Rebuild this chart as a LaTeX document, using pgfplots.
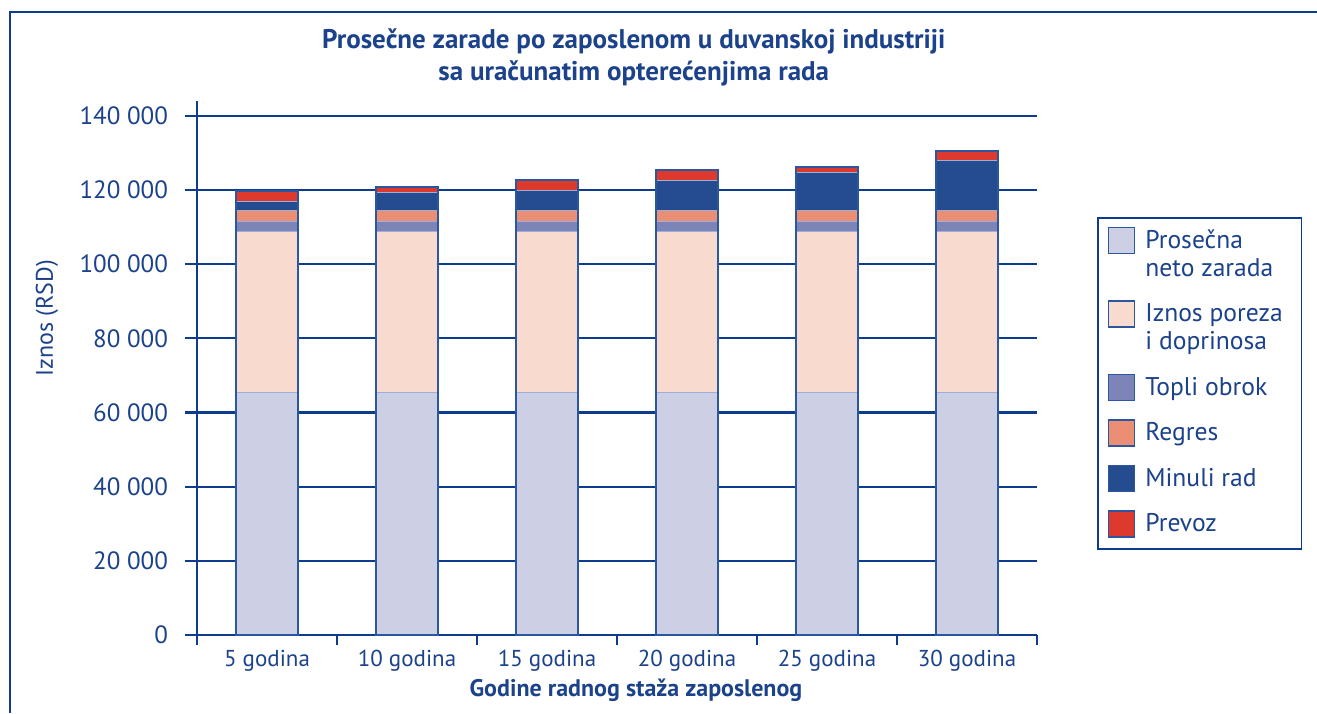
\documentclass[border=0pt]{standalone}
\usepackage{fontspec}
\setmainfont{PT Sans}
\usepackage{pgfplots}
\usepackage{pgfplotstable}
\pgfplotsset{compat=1.18}

\definecolor{txtblue}{HTML}{1B428A}
\definecolor{axblue}{HTML}{0D3C8C}
\definecolor{cneto}{HTML}{CDD0E5}
\definecolor{cporez}{HTML}{F8DACE}
\definecolor{ctopli}{HTML}{7C84B8}
\definecolor{cregres}{HTML}{EA8F74}
\definecolor{cminuli}{HTML}{254C8F}
\definecolor{cprevoz}{HTML}{DD3A2D}
\definecolor{csep}{HTML}{9DAFD8}
\definecolor{cedge}{HTML}{2B57A0}

% iznosi u RSD po godinama staza
\pgfplotstableread{
x neto porez topli regres minuli prevoz
0 65400 43400 2600 3000 2500 2700
1 65400 43400 2600 3000 4900 1500
2 65400 43400 2600 3000 5500 2700
3 65400 43400 2600 3000 8200 2700
4 65400 43400 2600 3000 10400 1500
5 65400 43400 2600 3000 13500 2500
}\zarade

\newcommand{\lone}[1]{\hbox to 73pt{\strut #1\hfil}}
\newcommand{\ltwo}[2]{\vtop{\hbox to 73pt{\strut #1\hfil}\hbox to 73pt{\strut #2\hfil}}}

\pgfplotsset{
  okvir/.style={
    at={(98.5pt,39pt)}, anchor=south west, scale only axis,
    width=420pt, height=267pt,
    xmin=-0.5, xmax=5.5, ymin=0, ymax=144000,
  },
  % kvadrat u legendi; nevidljiva tacka odredjuje dubinu reda
  kv1/.style={legend image code/.code={%
    \draw[##1, draw=cedge, line width=0.8pt] (0pt,-2.5pt) rectangle (13pt,10.5pt);
    \path (0pt,-4.2pt);}},
  kv2/.style={legend image code/.code={%
    \draw[##1, draw=cedge, line width=0.8pt] (0pt,-2.5pt) rectangle (13pt,10.5pt);
    \path (0pt,-18.2pt);}},
}

\begin{document}
\begin{tikzpicture}
\useasboundingbox (0,0) rectangle (658.5pt,356.5pt);
\draw[axblue, line width=1pt] (5pt,0) -- (5pt,350.5pt) -- (658.5pt,350.5pt);

\begin{axis}[okvir,
  ybar stacked, bar width=31pt,
  axis x line=bottom, axis y line=left,
  axis line style={axblue, line width=1.1pt, -},
  xtick={0,...,5},
  xticklabels={5 godina,10 godina,15 godina,20 godina,25 godina,30 godina},
  minor xtick={-0.5,0.5,...,5.5},
  ytick={0,20000,...,140000},
  yticklabels={0,20 000,40 000,60 000,80 000,100 000,120 000,140 000},
  scaled y ticks=false,
  tick align=outside, major tick length=6pt, minor tick length=5pt,
  major x tick style={draw=none},
  tick style={axblue, line width=1.1pt},
  minor tick style={axblue, line width=1.1pt},
  ymajorgrids, grid style={axblue, line width=1.1pt},
  x tick label style={font=\fontsize{11.5}{13}\selectfont, text=txtblue, yshift=2pt},
  y tick label style={font=\fontsize{12.5}{14}\selectfont, text=txtblue, xshift=-5pt},
  title={Prosečne zarade po zaposlenom u duvanskoj industriji\\sa uračunatim opterećenjima rada},
  title style={at={(axis description cs:0.520,1.060)}, anchor=center, align=center, yshift=0pt,
    font=\bfseries\fontsize{13.5}{16}\selectfont, text=txtblue},
  xlabel={Godine radnog staža zaposlenog},
  xlabel style={at={(axis description cs:0.5226,-0.103)}, anchor=center,
    font=\bfseries\fontsize{12}{14}\selectfont, text=txtblue},
  ylabel={Iznos (RSD)},
  ylabel style={at={(axis description cs:-0.1786,0.5936)}, anchor=center,
    font=\fontsize{12}{14}\selectfont, text=txtblue},
  legend style={at={(axis description cs:1.0714,0.782)}, anchor=north west,
    draw=axblue, line width=0.8pt, font=\fontsize{12.8}{14}\selectfont, text=txtblue,
    inner xsep=5pt, inner ysep=4.2pt, row sep=7.4pt, column sep=5pt,
    nodes={inner sep=0pt}, cells={anchor=base west}},
]
\addplot[kv2, fill=cneto, draw=csep, line width=0.5pt] table[x=x, y=neto] {\zarade};
\addplot[kv2, fill=cporez, draw=csep, line width=0.5pt] table[x=x, y=porez] {\zarade};
\addplot[kv1, fill=ctopli, draw=csep, line width=0.5pt] table[x=x, y=topli] {\zarade};
\addplot[kv1, fill=cregres, draw=csep, line width=0.5pt] table[x=x, y=regres] {\zarade};
\addplot[kv1, fill=cminuli, draw=csep, line width=0.5pt] table[x=x, y=minuli] {\zarade};
\addplot[kv1, fill=cprevoz, draw=csep, line width=0.5pt] table[x=x, y=prevoz] {\zarade};
\legend{\ltwo{Prosečna}{neto zarada},\ltwo{Iznos poreza}{i doprinosa},\lone{Topli obrok},\lone{Regres},\lone{Minuli rad},\lone{Prevoz}}
\end{axis}

% obris cijelog stupca
\begin{axis}[okvir, hide axis, ybar, bar width=31pt, bar shift=0pt]
\addplot[fill=none, draw=cedge, line width=1pt]
  table[x=x, y expr=\thisrow{neto}+\thisrow{porez}+\thisrow{topli}+\thisrow{regres}+\thisrow{minuli}+\thisrow{prevoz}] {\zarade};
\end{axis}
\end{tikzpicture}
\end{document}
